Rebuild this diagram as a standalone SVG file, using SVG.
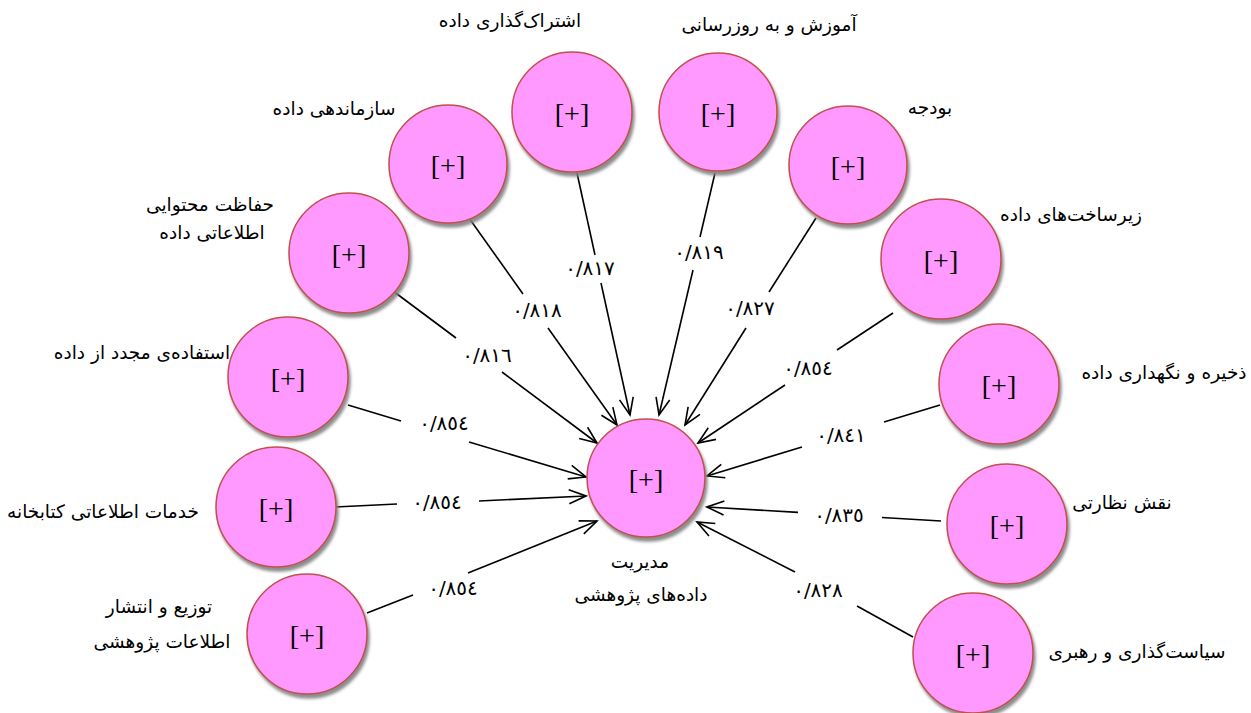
<svg xmlns="http://www.w3.org/2000/svg" width="1251" height="713" viewBox="0 0 1251 713">
<defs>
<filter id="sh" x="-20%" y="-20%" width="150%" height="150%">
<feDropShadow dx="2" dy="4" stdDeviation="1.5" flood-color="#808080" flood-opacity="0.9"/>
</filter>
<marker id="arr" markerUnits="userSpaceOnUse" markerWidth="20" markerHeight="16" viewBox="0 0 20 16" refX="18" refY="8" orient="auto">
<path d="M1,1 L18,8 L1,15" fill="none" stroke="#000" stroke-width="1.6"/>
</marker>
</defs>
<style>
.c{fill:#ff99ff;stroke:#c0504d;stroke-width:1.5;filter:url(#sh)}
.p{font-family:"Liberation Serif","Times New Roman",serif;font-size:28px;text-anchor:middle;fill:#000}
.t{font-family:"DejaVu Sans","Noto Sans",sans-serif;font-size:18.5px;text-anchor:middle;fill:#000;direction:rtl}
.n{font-family:"DejaVu Sans","Noto Sans",sans-serif;font-size:20px;text-anchor:middle;fill:#000}
.l{stroke:#000;stroke-width:1.6;fill:none}
.a{stroke:#000;stroke-width:1.6;fill:none;marker-end:url(#arr)}
</style>
<rect width="1251" height="713" fill="#fff"/>
<g id="connectors">
<line class="l" x1="577" y1="173" x2="595" y2="255"/><line class="a" x1="601" y1="283" x2="630" y2="415"/>
<line class="l" x1="715" y1="173" x2="700" y2="237"/><line class="a" x1="693" y1="270" x2="659" y2="415"/>
<line class="l" x1="469" y1="218" x2="523" y2="294"/><line class="a" x1="548" y1="328" x2="617" y2="425"/>
<line class="l" x1="816" y1="218" x2="769" y2="292"/><line class="a" x1="746" y1="328" x2="685" y2="425"/>
<line class="l" x1="389" y1="288" x2="456" y2="338"/><line class="a" x1="502" y1="372" x2="597" y2="443"/>
<line class="l" x1="893" y1="313" x2="837" y2="350"/><line class="a" x1="785" y1="385" x2="698" y2="443"/>
<line class="l" x1="348" y1="405" x2="401" y2="421"/><line class="a" x1="469" y1="442" x2="586" y2="477"/>
<line class="l" x1="940" y1="405" x2="884" y2="422"/><line class="a" x1="802" y1="447" x2="707" y2="476"/>
<line class="l" x1="335" y1="507" x2="397" y2="504"/><line class="a" x1="479" y1="501" x2="586" y2="496"/>
<line class="l" x1="941" y1="521" x2="882" y2="517.5"/><line class="a" x1="798" y1="512.4" x2="707" y2="507"/>
<line class="l" x1="367" y1="613" x2="413" y2="595"/><line class="a" x1="468" y1="573" x2="597" y2="521"/>
<line class="l" x1="913" y1="637" x2="857" y2="606"/><line class="a" x1="795" y1="572" x2="697" y2="522"/>
<text class="n" x="590" y="275">٠/٨١٧</text>
<text class="n" x="699" y="259">٠/٨١٩</text>
<text class="n" x="537" y="317">٠/٨١٨</text>
<text class="n" x="750" y="315">٠/٨٢٧</text>
<text class="n" x="487" y="362">٠/٨١٦</text>
<text class="n" x="808" y="375">٠/٨٥٤</text>
<text class="n" x="444" y="430">٠/٨٥٤</text>
<text class="n" x="841" y="442">٠/٨٤١</text>
<text class="n" x="437" y="509">٠/٨٥٤</text>
<text class="n" x="839" y="522">٠/٨٣٥</text>
<text class="n" x="453" y="595">٠/٨٥٤</text>
<text class="n" x="818" y="597">٠/٨٢٨</text>
</g>
<g id="center">
<circle class="c" cx="646" cy="478" r="59"/>
<text class="p" x="646" y="489">[+]</text>
<text class="t" x="640" y="568">مدیریت</text>
<text class="t" x="641" y="601">داده‌های پژوهشی</text>
</g>
<g id="n-sharing">
<circle class="c" cx="572" cy="112" r="60"/>
<text class="p" x="572" y="123">[+]</text>
<text class="t" x="510" y="27">اشتراک‌گذاری داده</text>
</g>
<g id="n-training">
<circle class="c" cx="718" cy="112" r="59"/>
<text class="p" x="718" y="123">[+]</text>
<text class="t" x="769" y="31">آموزش و به روزرسانی</text>
</g>
<g id="n-organizing">
<circle class="c" cx="448" cy="164" r="59"/>
<text class="p" x="448" y="175">[+]</text>
<text class="t" x="334" y="115">سازماندهی داده</text>
</g>
<g id="n-budget">
<circle class="c" cx="848" cy="165" r="59"/>
<text class="p" x="848" y="176">[+]</text>
<text class="t" x="930" y="114">بودجه</text>
</g>
<g id="n-preservation">
<circle class="c" cx="349" cy="253" r="60"/>
<text class="p" x="349" y="264">[+]</text>
<text class="t" x="210" y="211">حفاظت محتوایی</text>
<text class="t" x="212" y="239">اطلاعاتی داده</text>
</g>
<g id="n-infrastructure">
<circle class="c" cx="941" cy="259" r="60"/>
<text class="p" x="941" y="270">[+]</text>
<text class="t" x="1071" y="221">زیرساخت‌های داده</text>
</g>
<g id="n-reuse">
<circle class="c" cx="288" cy="377" r="60"/>
<text class="p" x="288" y="388">[+]</text>
<text class="t" x="142" y="359">استفاده‌ی مجدد از داده</text>
</g>
<g id="n-storage">
<circle class="c" cx="999" cy="384" r="60"/>
<text class="p" x="999" y="395">[+]</text>
<text class="t" x="1164" y="379">ذخیره و نگهداری داده</text>
</g>
<g id="n-library">
<circle class="c" cx="276" cy="507" r="60"/>
<text class="p" x="276" y="518">[+]</text>
<text class="t" x="103" y="518">خدمات اطلاعاتی کتابخانه</text>
</g>
<g id="n-supervision">
<circle class="c" cx="1007" cy="524" r="60"/>
<text class="p" x="1007" y="535">[+]</text>
<text class="t" x="1122" y="509">نقش نظارتی</text>
</g>
<g id="n-distribution">
<circle class="c" cx="307" cy="634" r="60"/>
<text class="p" x="307" y="645">[+]</text>
<text class="t" x="159" y="613">توزیع و انتشار</text>
<text class="t" x="162" y="648">اطلاعات پژوهشی</text>
</g>
<g id="n-policy">
<circle class="c" cx="973" cy="653" r="60"/>
<text class="p" x="973" y="664">[+]</text>
<text class="t" x="1137" y="658">سیاست‌گذاری و رهبری</text>
</g>
</svg>
